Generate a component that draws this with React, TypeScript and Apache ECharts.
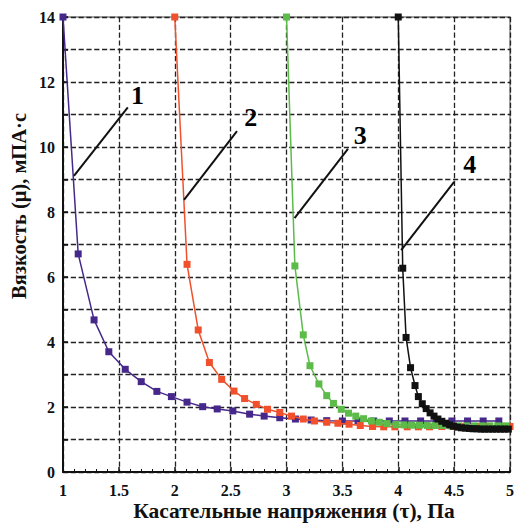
import React, { useEffect, useRef } from 'react';
import * as echarts from 'echarts';

const series1X = [1.0, 1.136, 1.278, 1.41, 1.557, 1.7, 1.84, 1.97, 2.11, 2.25, 2.38, 2.52, 2.67, 2.8, 2.94, 3.08, 3.22, 3.36, 3.5, 3.64, 3.78, 3.92, 4.06, 4.2, 4.34, 4.48, 4.62, 4.76, 4.9];
const series1Y = [14, 6.71, 4.68, 3.7, 3.16, 2.78, 2.48, 2.32, 2.15, 2.01, 1.94, 1.88, 1.78, 1.72, 1.67, 1.63, 1.6, 1.58, 1.57, 1.57, 1.57, 1.57, 1.57, 1.57, 1.57, 1.57, 1.57, 1.57, 1.57];

const series2X = [2.0, 2.11, 2.21, 2.31, 2.42, 2.53, 2.625, 2.73, 2.83, 2.94, 3.045, 3.15, 3.25, 3.36, 3.46, 3.56, 3.66, 3.77, 3.87, 3.97, 4.08, 4.18, 4.28, 4.39, 4.49, 4.59, 4.7, 4.8, 4.9, 5.0];
const series2Y = [14, 6.39, 4.37, 3.37, 2.85, 2.49, 2.26, 2.08, 1.93, 1.83, 1.72, 1.63, 1.57, 1.53, 1.5, 1.47, 1.43, 1.4, 1.39, 1.39, 1.39, 1.39, 1.39, 1.4, 1.4, 1.4, 1.4, 1.4, 1.4, 1.4];

const series3X = [3.0, 3.075, 3.15, 3.21, 3.29, 3.36, 3.42, 3.49, 3.555, 3.62, 3.69, 3.76, 3.83, 3.9, 3.98, 4.05, 4.12, 4.19, 4.26, 4.33, 4.4, 4.47, 4.54, 4.61, 4.68, 4.75, 4.82, 4.89, 4.96];
const series3Y = [14, 6.34, 4.22, 3.27, 2.71, 2.35, 2.11, 1.93, 1.81, 1.72, 1.64, 1.57, 1.53, 1.49, 1.46, 1.45, 1.44, 1.44, 1.43, 1.43, 1.43, 1.42, 1.42, 1.42, 1.42, 1.42, 1.42, 1.42, 1.42];

const series4X = [4.0, 4.04, 4.07, 4.11, 4.15, 4.18, 4.215, 4.25, 4.285, 4.32, 4.355, 4.39, 4.425, 4.46, 4.495, 4.53, 4.565, 4.6, 4.635, 4.67, 4.705, 4.74, 4.775, 4.81, 4.845, 4.88, 4.915, 4.95, 4.985];
const series4Y = [14, 6.27, 4.14, 3.21, 2.66, 2.32, 2.1, 1.95, 1.82, 1.72, 1.63, 1.56, 1.5, 1.45, 1.41, 1.38, 1.36, 1.35, 1.34, 1.33, 1.33, 1.32, 1.32, 1.32, 1.32, 1.32, 1.32, 1.32, 1.32];

const curveLabels = ['1', '2', '3', '4'];
const leaderStart = [[1.098, 9.11], [2.083, 8.37], [3.072, 7.81], [4.026, 6.83]];
const leaderEnd = [[1.58, 11.22], [2.557, 10.49], [3.55, 9.94], [4.5, 8.93]];
const labelPos = [[1.666, 11.6], [2.68, 10.9], [3.66, 10.35], [4.64, 9.45]];

const xTitle = 'Касательные напряжения (τ), Па';
const yTitle = 'Вязкость (μ), мПА·с';

const colors = ['#45288a', '#f0512c', '#5dbb4a', '#111111'];
const FONT = "'Liberation Serif', 'Times New Roman', serif";

function zip(xs: number[], ys: number[]) {
  return xs.map((x, i) => [x, ys[i]]);
}

export default function App() {
  const ref = useRef<HTMLDivElement>(null);
  useEffect(() => {
    if (!ref.current) return;
    const chart = echarts.init(ref.current, null, { renderer: 'svg' });
    const allX = [series1X, series2X, series3X, series4X];
    const allY = [series1Y, series2Y, series3Y, series4Y];
    const lineSeries = allX.map((xs, i) => ({
      type: 'line',
      name: curveLabels[i],
      data: zip(xs, allY[i]),
      symbol: 'rect',
      symbolSize: 7,
      showSymbol: true,
      clip: false,
      lineStyle: { color: colors[i], width: 1.5 },
      itemStyle: { color: colors[i] },
      z: 2 + i,
    }));
    const gridLine = { show: true, lineStyle: { color: '#222', type: 'dashed', dashOffset: 0, width: 1.3 } };
    chart.setOption({
      animation: false,
      grid: {
        left: 63,
        right: 4,
        top: 17,
        bottom: 54,
        show: true,
        borderColor: '#888',
        borderWidth: 1.5,
      },
      graphic: [
        {
          type: 'text',
          x: 294,
          y: 511,
          style: {
            text: xTitle,
            fontFamily: FONT,
            fontWeight: 'bold',
            fontSize: 21.5,
            fill: '#111',
            align: 'center',
            verticalAlign: 'middle',
          },
        },
        {
          type: 'text',
          x: 19,
          y: 206,
          rotation: Math.PI / 2,
          style: {
            text: yTitle,
            fontFamily: FONT,
            fontWeight: 'bold',
            fontSize: 20.5,
            fill: '#111',
            align: 'center',
            verticalAlign: 'middle',
          },
        },
      ],
      xAxis: {
        type: 'value',
        min: 1,
        max: 5,
        interval: 0.5,
        axisLine: { show: true, lineStyle: { color: '#111', width: 2 } },
        axisTick: { show: true, inside: true, length: 5, lineStyle: { color: '#111', width: 1.5 } },
        minorTick: { show: true, splitNumber: 5, length: 3, lineStyle: { color: '#111', width: 1 } },
        axisLabel: {
          fontFamily: FONT,
          fontWeight: 'bold',
          fontSize: 16,
          color: '#111',
          margin: 10,
          formatter: (v: number) => String(v),
        },
        splitLine: gridLine,
      },
      yAxis: {
        type: 'value',
        min: 0,
        max: 14,
        interval: 1,
        axisLine: { show: true, lineStyle: { color: '#111', width: 2 } },
        axisTick: { show: true, inside: true, length: 5, lineStyle: { color: '#111', width: 1.5 } },
        axisLabel: {
          fontFamily: FONT,
          fontWeight: 'bold',
          fontSize: 16,
          color: '#111',
          margin: 8,
          formatter: (v: number) => (v % 2 === 0 ? String(v) : ''),
        },
        splitLine: gridLine,
      },
      series: [
        ...lineSeries,
        {
          type: 'scatter',
          name: 'labels',
          data: labelPos.map((p, i) => [p[0], p[1], curveLabels[i]]),
          symbolSize: 0,
          silent: true,
          z: 10,
          itemStyle: { opacity: 1 },
          label: {
            show: true,
            position: 'inside',
            formatter: (p: any) => p.data[2],
            fontFamily: FONT,
            fontWeight: 'bold',
            fontSize: 26,
            color: '#000',
            opacity: 1,
          },
          markLine: {
            silent: true,
            symbol: ['none', 'none'],
            label: { show: false },
            lineStyle: { color: '#111', width: 2, type: 'solid', opacity: 1 },
            data: leaderStart.map((s, i) => [{ coord: s }, { coord: leaderEnd[i] }]),
          },
        },
      ],
    });
    return () => chart.dispose();
  }, []);
  return <div ref={ref} style={{ width: 517, height: 526, position: 'absolute', left: 0, top: 0 }} />;
}
